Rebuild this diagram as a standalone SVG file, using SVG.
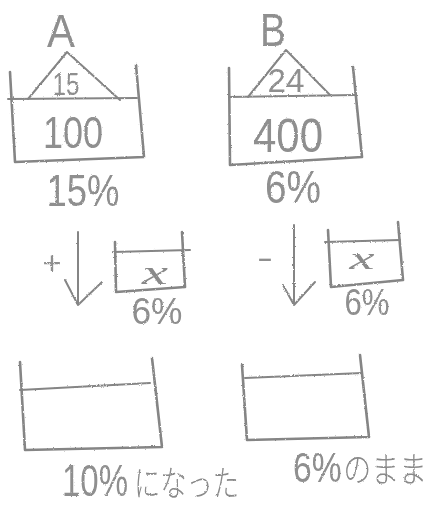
<svg xmlns="http://www.w3.org/2000/svg" width="438" height="507" viewBox="0 0 438 507">
<defs>
<filter id="pencil" x="-5%" y="-5%" width="110%" height="110%">
<feTurbulence type="fractalNoise" baseFrequency="0.9" numOctaves="2" seed="3" result="n"/>
<feDisplacementMap in="SourceGraphic" in2="n" scale="2.2" xChannelSelector="R" yChannelSelector="G"/>
</filter>
</defs>
<style>
.ln{fill:none;stroke:#858585;stroke-width:2.6;stroke-linecap:round;stroke-linejoin:round}
.thin{stroke-width:2}
.t{font-family:"Liberation Sans","Noto Sans CJK JP",sans-serif;fill:#8f8f8f;text-anchor:middle}
.r{font-family:"Liberation Sans","Noto Sans CJK JP",sans-serif;fill:#8f8f8f}
.jp{font-family:"Noto Sans CJK JP","Liberation Sans",sans-serif;fill:#8a8a8a;font-weight:300}
.x{font-family:"Liberation Serif",serif;font-style:italic;fill:#8a8a8a;text-anchor:middle}
</style>
<rect width="438" height="507" fill="#ffffff"/>
<g filter="url(#pencil)">
<g id="nodeA">
<text class="t" x="61" y="47" font-size="47" textLength="28" lengthAdjust="spacingAndGlyphs">A</text>
<path class="ln" d="M10,72 L15,162 L144,157 L136,65"/>
<path class="ln thin" d="M8,99 L137,98"/>
<path class="ln thin" d="M28,99 L67,52 L120,100"/>
<text class="t" x="66" y="95" font-size="31" textLength="27" lengthAdjust="spacingAndGlyphs">15</text>
<text class="t" x="73" y="148" font-size="45" textLength="60" lengthAdjust="spacingAndGlyphs">100</text>
<text class="t" x="83" y="206" font-size="44" textLength="73" lengthAdjust="spacingAndGlyphs">15%</text>
</g>
<g id="nodeB">
<text class="t" x="273" y="46" font-size="47" textLength="26" lengthAdjust="spacingAndGlyphs">B</text>
<path class="ln" d="M229,68 L230,165 L362,157 L353,67"/>
<path class="ln thin" d="M229,97 L355,95"/>
<path class="ln thin" d="M248,97 L286,50 L330,95"/>
<text class="t" x="286" y="92" font-size="33" textLength="37" lengthAdjust="spacingAndGlyphs">24</text>
<text class="t" x="288" y="152" font-size="48" textLength="70" lengthAdjust="spacingAndGlyphs">400</text>
<text class="t" x="293" y="203" font-size="46" textLength="56" lengthAdjust="spacingAndGlyphs">6%</text>
</g>
<g id="addA">
<text class="t" x="52" y="274" font-size="32" textLength="19" lengthAdjust="spacingAndGlyphs">+</text>
<path class="ln" d="M115,242 L116,292 L185,287 L182,232"/>
<path class="ln thin" d="M113,252 L190,250"/>
<text class="x" x="155" y="284" font-size="34" textLength="26" lengthAdjust="spacingAndGlyphs">x</text>
<text class="t" x="157" y="324" font-size="36" textLength="51" lengthAdjust="spacingAndGlyphs">6%</text>
</g>
<g id="addB">
<text class="t" x="265" y="268" font-size="30" textLength="16" lengthAdjust="spacingAndGlyphs">-</text>
<path class="ln" d="M328,230 L331,287 L403,280 L398,222"/>
<path class="ln thin" d="M325,242 L400,240"/>
<text class="x" x="362" y="269" font-size="32" textLength="25" lengthAdjust="spacingAndGlyphs">x</text>
<text class="t" x="367" y="315" font-size="36" textLength="45" lengthAdjust="spacingAndGlyphs">6%</text>
</g>
<g id="connectors">
<path class="ln thin" d="M78,232 L78,305 M65,280 L78,305 L102,282"/>
<path class="ln thin" d="M294,225 L294,305 M283,285 L294,305 L315,282"/>
</g>
<g id="resultA">
<path class="ln" d="M20,362 L25,450 L162,447 L152,358"/>
<path class="ln thin" d="M20,390 L150,383"/>
<text class="r" transform="translate(62,496) scale(0.75,1)"><tspan font-size="44">10%</tspan><tspan class="jp" font-size="35" dx="8">になった</tspan></text>
</g>
<g id="resultB">
<path class="ln" d="M242,365 L247,440 L369,437 L360,355"/>
<path class="ln thin" d="M245,378 L362,373"/>
<text class="r" transform="translate(293,482) scale(0.8,1)"><tspan font-size="42">6%</tspan><tspan class="jp" font-size="35" dx="2">のまま</tspan></text>
</g>
</g>
</svg>
